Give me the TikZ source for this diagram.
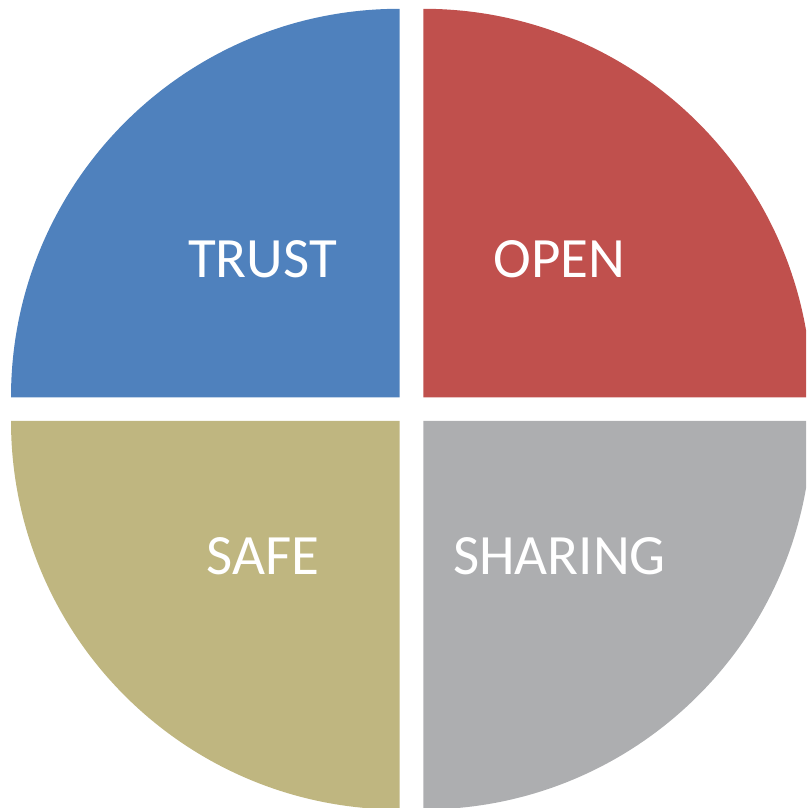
\documentclass[tikz,border=0pt]{standalone}
\usepackage{fontspec}
\setmainfont{Carlito}
\definecolor{qblue}{RGB}{79,129,189}
\definecolor{qred}{RGB}{192,80,77}
\definecolor{qkhaki}{RGB}{191,182,128}
\definecolor{qgrey}{RGB}{173,174,176}
\begin{document}
\begin{tikzpicture}[x=1pt,y=1pt,
  lab/.style={text=white,font=\fontsize{57}{60}\selectfont,inner sep=0pt}]
\useasboundingbox (0,0) rectangle (806,808);
\clip (0,0) rectangle (806,808);
\fill[qblue] (399.5,410.7) -- (11,410.7) arc[start angle=180,end angle=90,radius=388.5] -- cycle;
\fill[qred] (423.3,410.7) -- (423.3,799.2) arc[start angle=90,end angle=0,radius=388.5] -- cycle;
\fill[qkhaki] (399.5,387) -- (11,387) arc[start angle=180,end angle=270,radius=388.5] -- cycle;
\fill[qgrey] (423.3,387) -- (423.3,-1.5) arc[start angle=270,end angle=360,radius=388.5] -- cycle;
\node[lab] (trust) at (262.5,549) {TRUST};
\node[lab] (open) at (559.5,549) {OPEN};
\node[lab] (safe) at (263,252) {SAFE};
\node[lab] (sharing) at (559.5,252) {SHARING};
\end{tikzpicture}
\end{document}
